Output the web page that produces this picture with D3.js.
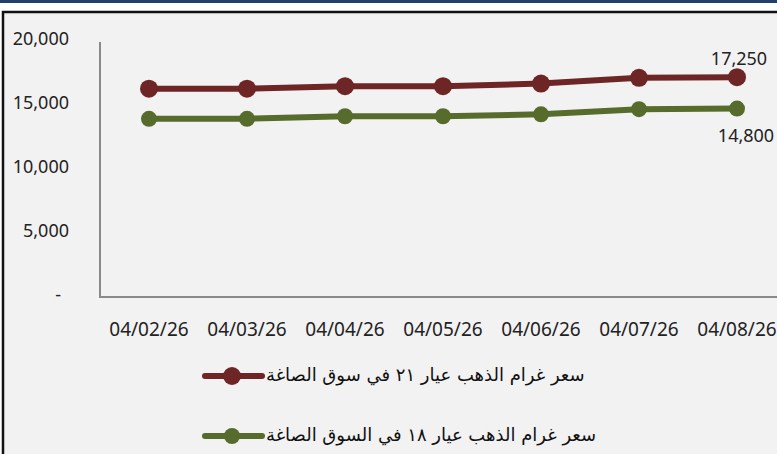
<!DOCTYPE html>
<html>
<head>
<meta charset="utf-8">
<script src="https://cdn.jsdelivr.net/npm/d3@7"></script>
<style>
  body { margin: 0; background: #fff; }
  svg { display: block; }
</style>
</head>
<body>
<script>
// chart data
const dates = ["04/02/26", "04/03/26", "04/04/26", "04/05/26", "04/06/26", "04/07/26", "04/08/26"];
const gold21 = [16350, 16350, 16550, 16550, 16750, 17200, 17250];
const gold18 = [14000, 14000, 14200, 14200, 14350, 14750, 14800];
const yTicks = [0, 5000, 10000, 15000, 20000];
const seriesNames = ["سعر غرام الذهب عيار ٢١ في سوق الصاغة", "سعر غرام الذهب عيار ١٨ في السوق الصاغة"];
const seriesColors = ["#6d2526", "#566b2c"];

const w = 777, h = 454;

const svg = d3.select("body").append("svg")
    .attr("width", w)
    .attr("height", h);

// page strip + frame
svg.append("rect").attr("width", w).attr("height", h).attr("fill", "#fff");
svg.append("rect").attr("x", 0).attr("y", 0).attr("width", w).attr("height", 3).attr("fill", "#23406b");
svg.append("rect")
    .attr("x", 3).attr("y", 12)
    .attr("width", w + 10).attr("height", h)
    .attr("fill", "#f2f2f2")
    .attr("stroke", "#111")
    .attr("stroke-width", 2.5);

// scales
const x = d3.scaleBand().domain(dates).range([100, 786]);
const y = d3.scaleLinear().domain([0, 20000]).range([298, 42]);
const cx = d => x(d) + x.bandwidth() / 2;

// axes lines
svg.append("line")
    .attr("x1", 100).attr("x2", 100)
    .attr("y1", y(20000)).attr("y2", y(0))
    .attr("stroke", "#8a8a8a").attr("stroke-width", 2);
svg.append("line")
    .attr("x1", 100).attr("x2", w)
    .attr("y1", y(0) - 1).attr("y2", y(0) - 1)
    .attr("stroke", "#8a8a8a").attr("stroke-width", 2);

// y tick labels
svg.selectAll(".ytick")
    .data(yTicks)
    .enter()
    .append("text")
    .attr("class", "ytick")
    .attr("x", d => d === 0 ? 61 : 69)
    .attr("y", d => y(d) - 3)
    .attr("dy", "0.35em")
    .attr("text-anchor", "end")
    .attr("font-family", "Noto Sans")
    .attr("font-size", 18)
    .attr("fill", "#222")
    .text(d => d === 0 ? "-" : d3.format(",")(d));

// x tick labels
svg.selectAll(".xtick")
    .data(dates)
    .enter()
    .append("text")
    .attr("class", "xtick")
    .attr("x", d => cx(d))
    .attr("y", 329)
    .attr("dy", "0.35em")
    .attr("text-anchor", "middle")
    .attr("font-family", "Noto Sans")
    .attr("font-size", 19)
    .attr("fill", "#222")
    .text(d => d);

// lines with markers
const line = d3.line()
    .x((d, i) => cx(dates[i]))
    .y(d => y(d));

[gold21, gold18].forEach((series, k) => {
    svg.append("path")
        .datum(series)
        .attr("d", line)
        .attr("fill", "none")
        .attr("stroke", seriesColors[k])
        .attr("stroke-width", 6);
    svg.selectAll(".pt" + k)
        .data(series)
        .enter()
        .append("circle")
        .attr("class", "pt" + k)
        .attr("cx", (d, i) => cx(dates[i]))
        .attr("cy", d => y(d))
        .attr("r", k === 0 ? 9 : 8)
        .attr("fill", seriesColors[k]);
});

// end labels
const last = dates.length - 1;
svg.append("text")
    .attr("x", cx(dates[last]) + 2)
    .attr("y", y(gold21[last]) - 19)
    .attr("dy", "0.35em")
    .attr("text-anchor", "middle")
    .attr("font-family", "Noto Sans")
    .attr("font-size", 18)
    .attr("fill", "#222")
    .text(d3.format(",")(gold21[last]));
svg.append("text")
    .attr("x", cx(dates[last]) + 9)
    .attr("y", y(gold18[last]) + 27)
    .attr("dy", "0.35em")
    .attr("text-anchor", "middle")
    .attr("font-family", "Noto Sans")
    .attr("font-size", 18)
    .attr("fill", "#222")
    .text(d3.format(",")(gold18[last]));

// legend
const legendY = [376, 436];
seriesNames.forEach((name, k) => {
    const g = svg.append("g");
    g.append("line")
        .attr("x1", 205).attr("x2", 262)
        .attr("y1", legendY[k]).attr("y2", legendY[k])
        .attr("stroke", seriesColors[k])
        .attr("stroke-width", 6)
        .attr("stroke-linecap", "round");
    g.append("circle")
        .attr("cx", 232).attr("cy", legendY[k])
        .attr("r", k === 0 ? 9 : 8)
        .attr("fill", seriesColors[k]);
    g.append("text")
        .attr("x", 266)
        .attr("y", legendY[k])
        .attr("dy", "0.3em")
        .attr("font-family", "DejaVu Sans")
        .attr("font-size", 18)
        .attr("fill", "#111")
        .text(name);
});
</script>
</body>
</html>
